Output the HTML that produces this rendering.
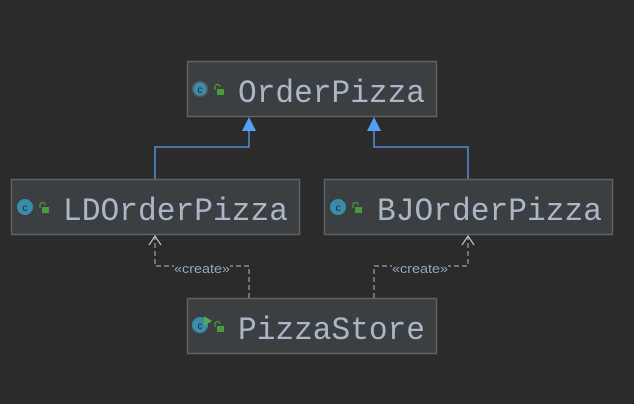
<!DOCTYPE html>
<html><head><meta charset="utf-8"><style>
html,body{margin:0;padding:0;background:#2b2b2b;}
svg{display:block}
.t{font-family:"Liberation Mono","DejaVu Sans Mono",monospace;font-size:32px;fill:#a9b7c6;}
.s{font-family:"Liberation Sans",sans-serif;font-size:13px;fill:#8fa9c6;}
</style></head><body>
<svg width="634" height="404" viewBox="0 0 634 404" xmlns="http://www.w3.org/2000/svg">
<rect width="634" height="404" fill="#2b2b2b"/>
<g stroke="#589df6" stroke-width="1.3" fill="none">
<polyline points="155,179 155,147 249,147 249,131"/>
<polyline points="468,179 468,147 374,147 374,131"/>
</g>
<polygon points="249,117 242,131 256,131" fill="#589df6"/>
<polygon points="374,117 367,131 381,131" fill="#589df6"/>
<g stroke="#a0a0a0" stroke-width="1.2" fill="none" stroke-dasharray="5,3">
<polyline points="249,298 249,266 155,266 155,237"/>
<polyline points="374,298 374,266 468,266 468,237"/>
</g>
<g stroke="#c0c0c0" stroke-width="1.2" fill="none">
<polyline points="149,245 155,236 161,245"/>
<polyline points="462,245 468,236 474,245"/>
</g>
<rect x="174" y="262" width="56" height="10" fill="#2b2b2b"/>
<rect x="392" y="262" width="56" height="10" fill="#2b2b2b"/>
<text class="s" x="202" y="273" text-anchor="middle" textLength="56" lengthAdjust="spacingAndGlyphs">«create»</text>
<text class="s" x="420" y="273" text-anchor="middle" textLength="56" lengthAdjust="spacingAndGlyphs">«create»</text>
<g fill="#3c3f41" stroke="#5f6163" stroke-width="1.5">
<rect x="187.5" y="61.5" width="249" height="55"/>
<rect x="11.5" y="179.5" width="288" height="55"/>
<rect x="324.5" y="179.5" width="288" height="55"/>
<rect x="187.5" y="298.5" width="249" height="55"/>
</g>
<g>
<circle cx="200" cy="89" r="8" fill="#5a5a5a"/><circle cx="200" cy="89" r="6.5" fill="#3b8bab"/>
<circle cx="25" cy="207" r="8" fill="#3b8bab"/>
<circle cx="338" cy="207" r="8" fill="#3b8bab"/>
<circle cx="200" cy="325" r="8" fill="#3b8bab"/>
<polygon points="204,316 212,321 204,326" fill="#59a84a"/>
</g>
<g font-family="Liberation Sans,sans-serif" font-size="10" fill="#1e2a30" text-anchor="middle">
<text x="200" y="93">c</text><text x="25" y="211">c</text><text x="338" y="211">c</text><text x="200" y="329">c</text>
</g>
<g fill="#4a9a3a">
<rect x="217" y="89" width="7" height="6"/><rect x="42" y="207" width="7" height="6"/><rect x="355" y="207" width="7" height="6"/><rect x="217" y="326" width="7" height="6"/>
</g>
<g fill="none" stroke="#4a9a3a" stroke-width="1.3">
<path d="M215,90 v-3 a2.5,2.5 0 0 1 5,0"/><path d="M40,208 v-3 a2.5,2.5 0 0 1 5,0"/><path d="M353,208 v-3 a2.5,2.5 0 0 1 5,0"/><path d="M215,327 v-3 a2.5,2.5 0 0 1 5,0"/>
</g>
<text class="t" x="238" y="102" textLength="187" lengthAdjust="spacingAndGlyphs">OrderPizza</text>
<text class="t" x="63" y="220" textLength="225" lengthAdjust="spacingAndGlyphs">LDOrderPizza</text>
<text class="t" x="377" y="220" textLength="225" lengthAdjust="spacingAndGlyphs">BJOrderPizza</text>
<text class="t" x="238" y="339" textLength="187" lengthAdjust="spacingAndGlyphs">PizzaStore</text>
</svg>
</body></html>
